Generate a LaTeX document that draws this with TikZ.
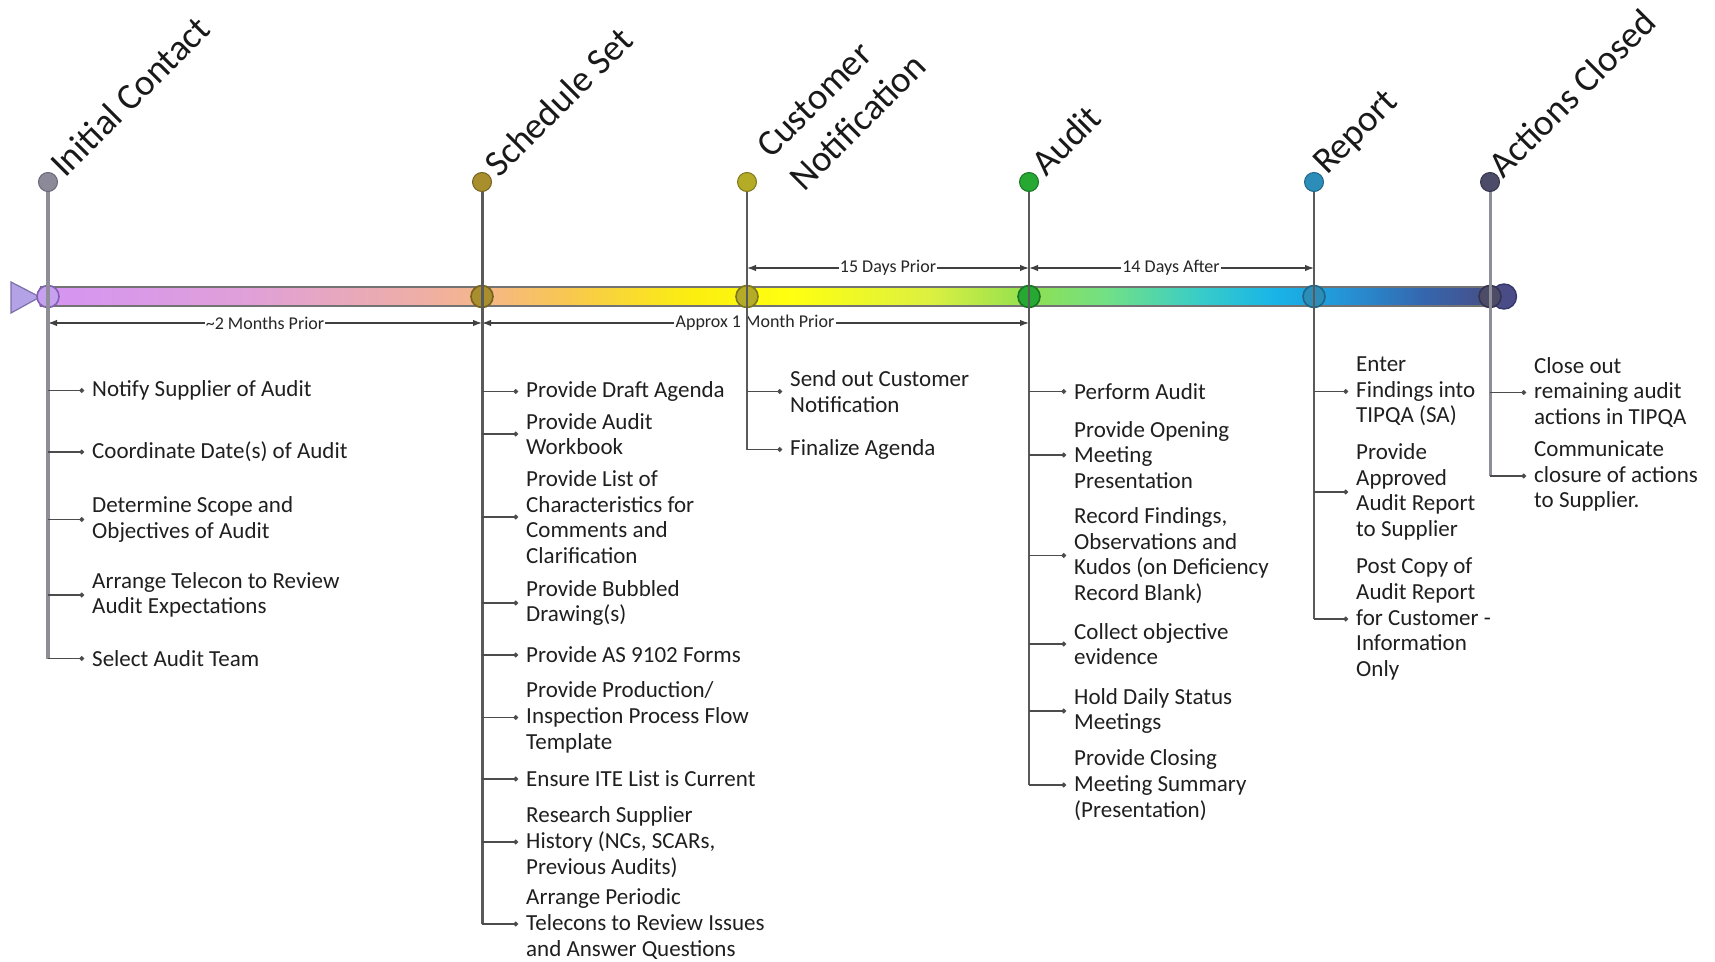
\documentclass[tikz,border=0pt]{standalone}
\usepackage{fontspec}
\setmainfont{Carlito}
\usetikzlibrary{arrows.meta}
\definecolor{g0}{HTML}{D494F4}
\definecolor{g1}{HTML}{E0A0D8}
\definecolor{g2}{HTML}{EEAEA6}
\definecolor{g3}{HTML}{F5B68A}
\definecolor{g4}{HTML}{F8C84E}
\definecolor{g5}{HTML}{FBEE10}
\definecolor{g6}{HTML}{FFFF10}
\definecolor{g7}{HTML}{DCF040}
\definecolor{g8}{HTML}{90E050}
\definecolor{g9}{HTML}{70E088}
\definecolor{g10}{HTML}{38CCC8}
\definecolor{g11}{HTML}{18B4E8}
\definecolor{g12}{HTML}{2496D8}
\definecolor{g13}{HTML}{3468B0}
\definecolor{g14}{HTML}{4A4A80}
\definecolor{dIC}{HTML}{8C8A98}\definecolor{dICo}{HTML}{6A6876}
\definecolor{dSS}{HTML}{A88E2C}\definecolor{dSSo}{HTML}{76621E}
\definecolor{dCN}{HTML}{B4AC26}\definecolor{dCNo}{HTML}{7C761C}
\definecolor{dAU}{HTML}{26A832}\definecolor{dAUo}{HTML}{1A7424}
\definecolor{dRP}{HTML}{2C8EB8}\definecolor{dRPo}{HTML}{1E6688}
\definecolor{dAC}{HTML}{4C4C68}\definecolor{dACo}{HTML}{34344C}
\definecolor{bIC}{HTML}{C8A0F0}\definecolor{bICo}{HTML}{8060B0}
\definecolor{triF}{HTML}{B4A2E6}\definecolor{triO}{HTML}{7C70A8}
\definecolor{capF}{HTML}{4A4C88}\definecolor{capO}{HTML}{36386A}
\definecolor{stemLight}{HTML}{8E8E96}
\definecolor{stemDark}{HTML}{5A5A5A}
\begin{document}
\begin{tikzpicture}[x=1pt,y=-1pt,
  item/.style={font=\fontsize{23}{25.7}\selectfont, align=left, anchor=west, inner sep=0pt, text=black!88},
  head/.style={font=\fontsize{37}{47}\selectfont, rotate=45, anchor=base west, inner sep=0pt, text=black!90},
  dimlbl/.style={font=\fontsize{18}{20}\selectfont, fill=white, inner xsep=1pt, inner ysep=1pt, text=black!85},
  dimarr/.style={-{Latex[length=9pt,width=6.5pt]}, line width=1.3pt, draw=black!75},
  topdot/.style={circle, minimum size=19pt, inner sep=0pt, line width=1pt},
  bardot/.style={circle, minimum size=22pt, inner sep=0pt, line width=1.6pt},
  stemlight/.style={line width=4pt, draw=stemLight},
  stemdark/.style={line width=2.4pt, draw=stemDark},
  branch/.style={-{Circle[length=4.5pt]}, line width=1.8pt, draw=black!70},
]
\useasboundingbox (0,0) rectangle (1715,961);
% timeline bar
\foreach \xa/\xb/\ca/\cb in {40/250/g0/g1, 250/420/g1/g2, 420/482/g2/g3, 482/570/g3/g4, 570/690/g4/g5, 690/790/g5/g6, 790/930/g6/g7, 930/1029/g7/g8, 1029/1110/g8/g9, 1110/1200/g9/g10, 1200/1275/g10/g11, 1275/1340/g11/g12, 1340/1420/g12/g13, 1420/1502/g13/g14}
  \shade[left color=\ca, right color=\cb] (\xa-0.5,287) rectangle (\xb+0.5,306);
\draw[line width=1.4pt, draw=black!55] (40,287) -- (1502,287) (40,306) -- (1502,306);
\draw[fill=triF, draw=triO, line width=1.2pt] (11,282) -- (40,297) -- (11,313) -- cycle;
\node[circle, minimum size=25pt, inner sep=0pt, fill=capF, draw=capO, line width=1.4pt] (cap) at (1504,296.5) {};
% dots on the bar
\node[bardot, fill=bIC, draw=bICo] (b1) at (48,296.5) {};
\node[bardot, fill=dSS, draw=dSSo] (b2) at (482,296.5) {};
\node[bardot, fill=dCN, draw=dCNo] (b3) at (747,296.5) {};
\node[bardot, fill=dAU, draw=dAUo] (b4) at (1029,296.5) {};
\node[bardot, fill=dRP, draw=dRPo] (b5) at (1314,296.5) {};
\node[bardot, fill=dAC, draw=dACo] (b6) at (1490,296.5) {};
% milestone positions
\coordinate (t1) at (48,182);
\coordinate (t2) at (482,182);
\coordinate (t3) at (747,182);
\coordinate (t4) at (1029,182);
\coordinate (t5) at (1314,182);
\coordinate (t6) at (1490,182);
% items
\node[item] (ic1) at (92,390.5) {Notify Supplier of Audit};
\node[item] (ic2) at (92,452) {Coordinate Date(s) of Audit};
\node[item] (ic3) at (92,519.5) {Determine Scope and\\Objectives of Audit};
\node[item] (ic4) at (92,595) {Arrange Telecon to Review\\Audit Expectations};
\node[item] (ic5) at (92,658.5) {Select Audit Team};
\node[item] (ss1) at (526,391.5) {Provide Draft Agenda};
\node[item] (ss2) at (526,434) {Provide Audit\\Workbook};
\node[item] (ss3) at (526,517) {Provide List of\\Characteristics for\\Comments and\\Clarification};
\node[item] (ss4) at (526,603) {Provide Bubbled\\Drawing(s)};
\node[item] (ss5) at (526,655) {Provide AS 9102 Forms};
\node[item] (ss6) at (526,717.5) {Provide Production/\\Inspection Process Flow\\Template};
\node[item] (ss7) at (526,779) {Ensure ITE List is Current};
\node[item] (ss8) at (526,842) {Research Supplier\\History (NCs, SCARs,\\Previous Audits)};
\node[item] (ss9) at (526,924) {Arrange Periodic\\Telecons to Review Issues\\and Answer Questions};
\node[item] (cn1) at (790,391.5) {Send out Customer\\Notification};
\node[item] (cn2) at (790,449.5) {Finalize Agenda};
\node[item] (au1) at (1074,391.5) {Perform Audit};
\node[item] (au2) at (1074,455) {Provide Opening\\Meeting\\Presentation};
\node[item] (au3) at (1074,555.5) {Record Findings,\\Observations and\\Kudos (on Deficiency\\Record Blank)};
\node[item] (au4) at (1074,644) {Collect objective\\evidence};
\node[item] (au5) at (1074,711) {Hold Daily Status\\Meetings};
\node[item] (au6) at (1074,785) {Provide Closing\\Meeting Summary\\(Presentation)};
\node[item] (rp1) at (1356,391.5) {Enter\\Findings into\\TIPQA (SA)};
\node[item] (rp2) at (1356,492) {Provide\\Approved\\Audit Report\\to Supplier};
\node[item] (rp3) at (1356,619) {Post Copy of\\Audit Report\\for Customer -\\Information\\Only};
\node[item] (ac1) at (1534,392.5) {Close out\\remaining audit\\actions in TIPQA};
\node[item] (ac2) at (1534,476) {Communicate\\closure of actions\\to Supplier.};
% dimension arrows
\node[dimlbl] (dl1) at (265,323) {\textasciitilde2 Months Prior};
\draw[dimarr] (dl1.west) -- (dl1.west -| t1);
\draw[dimarr] (dl1.east) -- (dl1.east -| t2);
\node[dimlbl] (dl2) at (755,323) {Approx 1 Month Prior};
\draw[dimarr] (dl2.west) -- (dl2.west -| t2);
\draw[dimarr] (dl2.east) -- (dl2.east -| t4);
\node[dimlbl] (dl3) at (888,268) {15 Days Prior};
\draw[dimarr] (dl3.west) -- (dl3.west -| t3);
\draw[dimarr] (dl3.east) -- (dl3.east -| t4);
\node[dimlbl] (dl4) at (1171,268) {14 Days After};
\draw[dimarr] (dl4.west) -- (dl4.west -| t4);
\draw[dimarr] (dl4.east) -- (dl4.east -| t5);
% stems
\draw[stemlight] (t1) -- (ic5.west -| t1);
\draw[stemdark, line width=3pt] (t2) -- (ss9.west -| t2);
\draw[stemdark, line width=2.2pt] (t3) -- (cn2.west -| t3);
\draw[stemdark, line width=2.2pt] (t4) -- (au6.west -| t4);
\draw[stemdark, line width=2.6pt] (t5) -- (rp3.west -| t5);
\draw[stemlight, line width=3pt] (t6) -- (ac2.west -| t6);
% branches
\foreach \n in {ic1,ic2,ic3,ic4,ic5} \draw[branch] (\n.west -| t1) -- ([xshift=-8pt]\n.west);
\foreach \n in {ss1,ss2,ss3,ss4,ss5,ss6,ss7,ss8,ss9} \draw[branch] (\n.west -| t2) -- ([xshift=-8pt]\n.west);
\foreach \n in {cn1,cn2} \draw[branch] (\n.west -| t3) -- ([xshift=-8pt]\n.west);
\foreach \n in {au1,au2,au3,au4,au5,au6} \draw[branch] (\n.west -| t4) -- ([xshift=-8pt]\n.west);
\foreach \n in {rp1,rp2,rp3} \draw[branch] (\n.west -| t5) -- ([xshift=-8pt]\n.west);
\foreach \n in {ac1,ac2} \draw[branch] (\n.west -| t6) -- ([xshift=-8pt]\n.west);
% top dots
\node[topdot, fill=dIC, draw=dICo] (d1) at (t1) {};
\node[topdot, fill=dSS, draw=dSSo] (d2) at (t2) {};
\node[topdot, fill=dCN, draw=dCNo] (d3) at (t3) {};
\node[topdot, fill=dAU, draw=dAUo] (d4) at (t4) {};
\node[topdot, fill=dRP, draw=dRPo] (d5) at (t5) {};
\node[topdot, fill=dAC, draw=dACo] (d6) at (t6) {};
% headings
\node[head] (h1) at (65,179) {Initial Contact};
\node[head] (h2) at (499,179) {Schedule Set};
\node[head] (h3a) at (771,160) {Customer};
\node[head] (h3b) at (804,193) {Notification};
\node[head] (h4) at (1046,178) {Audit};
\node[head] (h5) at (1327,176) {Report};
\node[head] (h6) at (1503,180) {Actions Closed};
\end{tikzpicture}
\end{document}
